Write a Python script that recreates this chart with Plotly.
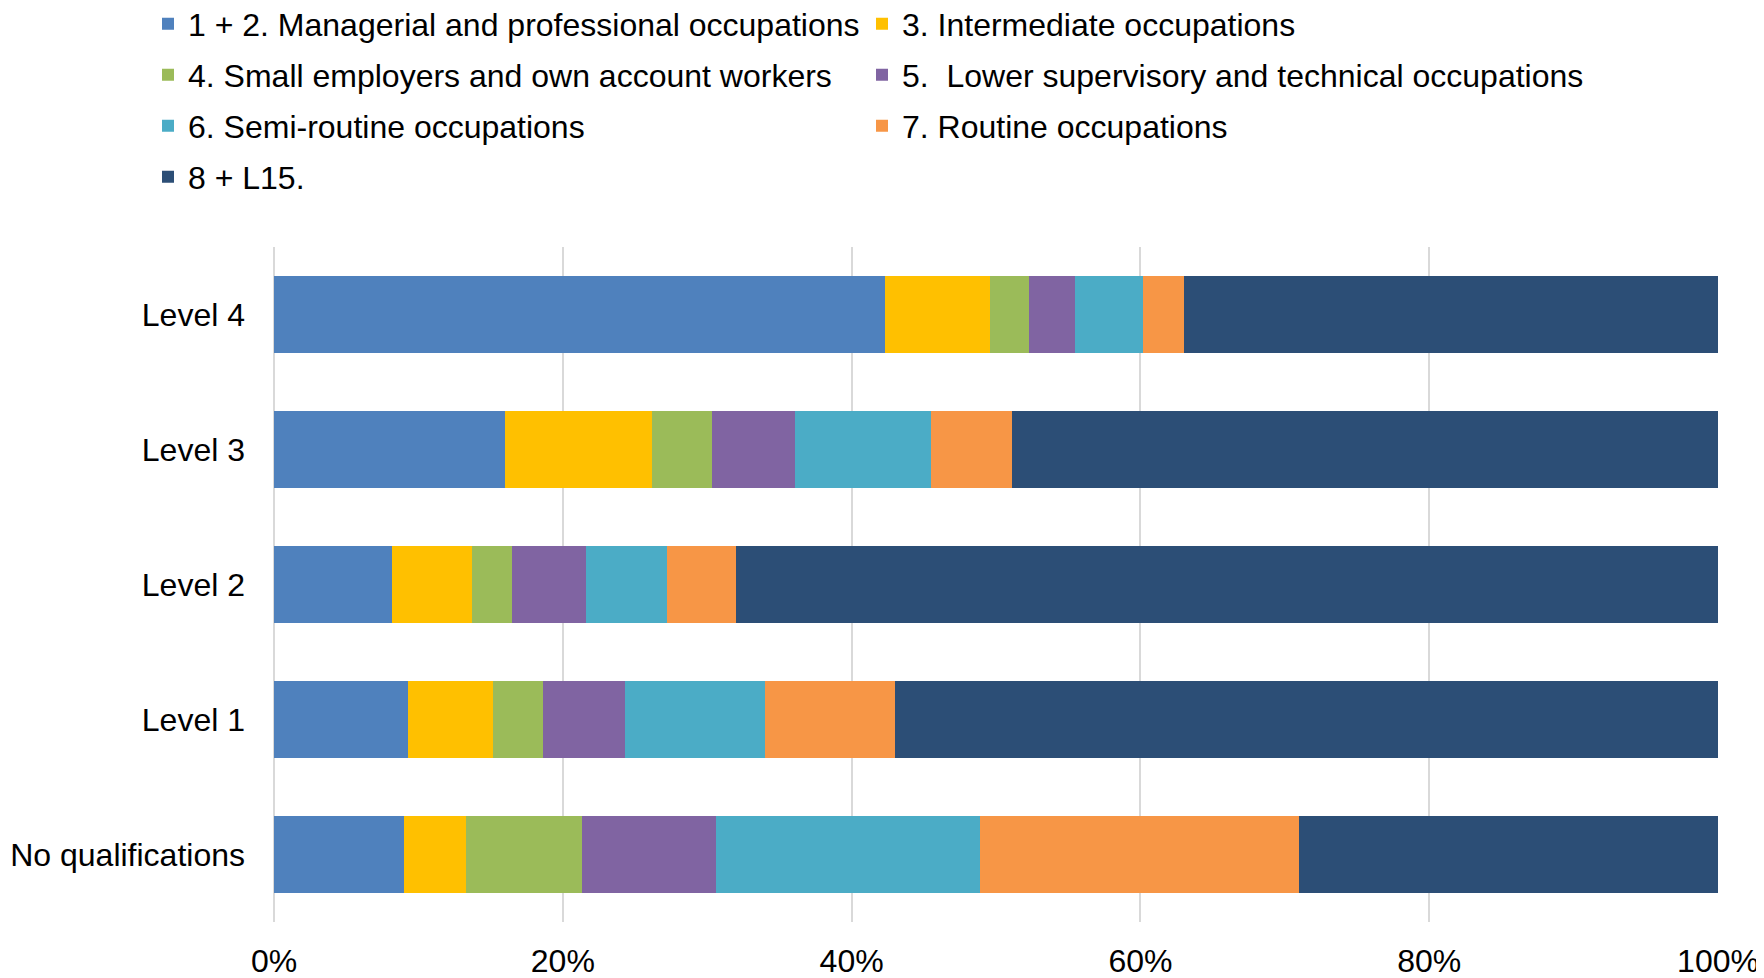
import plotly.graph_objects as go

categories = ["Level 4", "Level 3", "Level 2", "Level 1", "No qualifications"]

series_names = [
    "1 + 2. Managerial and professional occupations",
    "3. Intermediate occupations",
    "4. Small employers and own account workers",
    "5.\u00a0 Lower supervisory and technical occupations",
    "6. Semi-routine occupations",
    "7. Routine occupations",
    "8 + L15.",
]

s12 = [42.3, 16.0, 8.2, 9.3, 9.0]
s3 = [7.3, 10.2, 5.5, 5.9, 4.3]
s4 = [2.7, 4.1, 2.8, 3.4, 8.0]
s5 = [3.2, 5.8, 5.1, 5.7, 9.3]
s6 = [4.7, 9.4, 5.6, 9.7, 18.3]
s7 = [2.8, 5.6, 4.8, 9.0, 22.1]
s8 = [37.0, 48.9, 68.0, 57.0, 29.0]

x_tickvals = [0, 20, 40, 60, 80, 100]
x_ticktext = ["0%", "20%", "40%", "60%", "80%", "100%"]

colors = ["#4F81BD", "#FFC000", "#9BBB59", "#8064A2", "#4BACC6", "#F79646", "#2C4E76"]

series_values = [s12, s3, s4, s5, s6, s7, s8]

FONT = "Liberation Sans, Arial, sans-serif"
# page body has an 8px margin, so the figure is sized to fit inside the window
W, H = 1756, 970

# legend grid: two columns, four rows
col_x = [140, 854]
row_y = [16, 67, 118, 169]

fig = go.Figure()
legends = {}
for i, (name, vals, col) in enumerate(zip(series_names, series_values, colors)):
    lid = "legend" if i == 0 else "legend%d" % (i + 1)
    fig.add_trace(go.Bar(
        y=categories, x=vals, name=name, orientation="h",
        marker=dict(color=col, line=dict(width=0)),
        legend=lid,
        showlegend=True,
    ))
    legends[lid] = dict(
        orientation="h",
        xref="container", yref="container",
        x=col_x[i % 2] / W, xanchor="left",
        y=1 - row_y[i // 2] / H, yanchor="middle",
        font=dict(family=FONT, size=32, color="#000000"),
        bgcolor="rgba(0,0,0,0)",
        visible=True,
    )

fig.update_layout(
    width=W, height=H,
    showlegend=True,
    barmode="stack",
    bargap=0.43,
    paper_bgcolor="white",
    plot_bgcolor="white",
    margin=dict(l=266, r=46, t=239, b=56, autoexpand=False),
    font=dict(family=FONT, size=32, color="#000000"),
    xaxis=dict(
        range=[0, 100],
        tickvals=x_tickvals,
        ticktext=x_ticktext,
        showgrid=True, gridcolor="#D9D9D9", gridwidth=1.5,
        zeroline=True, zerolinecolor="#D9D9D9", zerolinewidth=1.5,
        showline=False,
        ticks="",
        ticklabelstandoff=17,
        tickfont=dict(family=FONT, size=32, color="#000000"),
        automargin=False,
        fixedrange=True,
    ),
    yaxis=dict(
        autorange="reversed",
        showgrid=False,
        showline=False,
        ticks="",
        ticklabelstandoff=28,
        tickfont=dict(family=FONT, size=32, color="#000000"),
        automargin=False,
        fixedrange=True,
    ),
    **legends,
)

fig.write_html("out.html")
